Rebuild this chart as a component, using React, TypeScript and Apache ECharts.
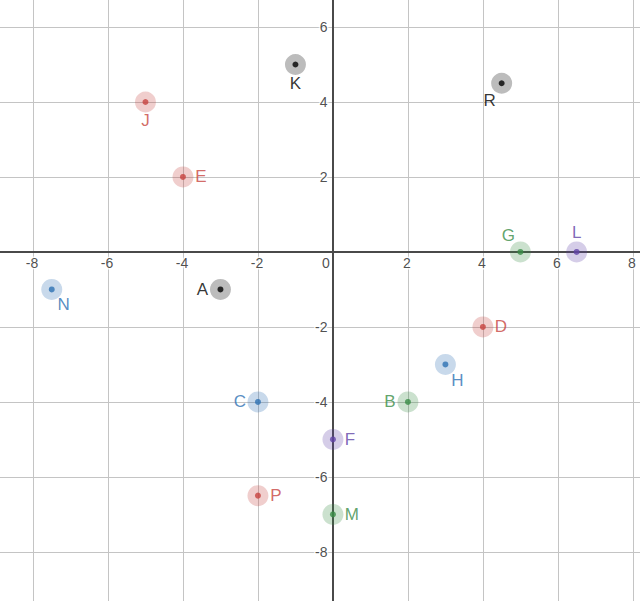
import React, { useEffect, useRef } from "react";
import * as echarts from "echarts";

// ---- data ----
const pointNames = ["A", "K", "R", "J", "E", "D", "P", "N", "C", "H", "G", "B", "M", "L", "F"];
const pointX = [-3, -1, 4.5, -5, -4, 4, -2, -7.5, -2, 3, 5, 2, 0, 6.5, 0];
const pointY = [-1, 5, 4.5, 4, 2, -2, -6.5, -1, -4, -3, 0, -4, -7, 0, -5];
const pointGroup = ["black", "black", "black", "red", "red", "red", "red", "blue", "blue", "blue", "green", "green", "green", "purple", "purple"];

const xRange = [-8.88, 8.19];
const yRange = [-9.31, 6.72];
const tickStep = 2;
const xTickLabels = [-8, -6, -4, -2, 0, 2, 4, 6, 8];
const yTickLabels = [-8, -6, -4, -2, 2, 4, 6];

// ---- styles ----
const groupColor: Record<string, string> = {
  black: "#000000",
  red: "#c74440",
  blue: "#2d70b3",
  green: "#388c46",
  purple: "#6042a6",
};
const haloColor: Record<string, string> = {
  black: "rgba(0,0,0,0.33)",
  red: "rgba(199,68,64,0.33)",
  blue: "rgba(45,112,179,0.33)",
  green: "rgba(56,140,70,0.33)",
  purple: "rgba(96,66,166,0.33)",
};
const labelOffset: Record<string, number[]> = {
  A: [-18, 0],
  K: [0, 19],
  R: [-12, 17],
  J: [0, 19],
  E: [18, 0],
  D: [18, 0],
  P: [18, 0],
  N: [12, 15],
  C: [-18, 0],
  H: [12, 16],
  G: [-12, -16],
  B: [-18, 0],
  M: [19, 0],
  L: [0, -19],
  F: [17, 0],
};

const FONT = "'Liberation Sans', Arial, sans-serif";
const tickText = {
  show: true,
  fontSize: 14,
  color: "#222",
  fontFamily: FONT,
  textBorderColor: "#fff",
  textBorderWidth: 3,
};

export default function App() {
  const ref = useRef<HTMLDivElement>(null);
  useEffect(() => {
    document.body.style.margin = "0";
    const chart = echarts.init(ref.current!, null, { renderer: "svg" });

    const haloData = pointNames.map((n, i) => ({
      name: n,
      value: [pointX[i], pointY[i]],
      itemStyle: { color: haloColor[pointGroup[i]] },
      label: {
        show: true,
        position: "inside",
        offset: labelOffset[n],
        formatter: "{b}",
        color: groupColor[pointGroup[i]],
        fontSize: 17,
        fontFamily: FONT,
      },
    }));
    const dotData = pointNames.map((n, i) => ({
      name: n,
      value: [pointX[i], pointY[i]],
      itemStyle: { color: groupColor[pointGroup[i]] },
    }));
    const xTickData = xTickLabels.map((v) => ({
      name: String(v),
      value: [v, 0],
      label: { ...tickText, position: "inside", offset: v === 0 ? [-7, 11] : [-1, 11], formatter: "{b}" },
    }));
    const yTickData = yTickLabels.map((v) => ({
      name: String(v),
      value: [0, v],
      label: { ...tickText, position: "left", distance: 5, formatter: "{b}" },
    }));

    const axisCommon = {
      type: "value",
      minInterval: tickStep,
      maxInterval: tickStep,
      axisLine: { onZero: true, lineStyle: { color: "#4a4a4a", width: 2 } },
      axisTick: { show: false },
      axisLabel: { show: false },
      splitLine: { show: true, showMinLine: false, showMaxLine: false, lineStyle: { color: "#c4c4c4", width: 1 } },
    };

    chart.setOption({
      animation: false,
      grid: { left: 0, right: 0, top: 0, bottom: 0, containLabel: false, outerBoundsMode: "none" },
      xAxis: { ...axisCommon, min: xRange[0], max: xRange[1] },
      yAxis: { ...axisCommon, min: yRange[0], max: yRange[1] },
      series: [
        {
          type: "scatter",
          symbol: "circle",
          symbolSize: 1,
          itemStyle: { color: "rgba(0,0,0,0)" },
          data: xTickData,
          z: 2,
          silent: true,
        },
        {
          type: "scatter",
          symbol: "circle",
          symbolSize: 1,
          itemStyle: { color: "rgba(0,0,0,0)" },
          data: yTickData,
          z: 2,
          silent: true,
        },
        {
          type: "scatter",
          symbol: "circle",
          symbolSize: 21,
          data: haloData,
          z: 3,
          silent: true,
        },
        {
          type: "scatter",
          symbol: "circle",
          symbolSize: 6,
          data: dotData,
          z: 4,
          silent: true,
        },
      ],
    });
    return () => chart.dispose();
  }, []);
  return <div ref={ref} style={{ width: 640, height: 601 }} />;
}
